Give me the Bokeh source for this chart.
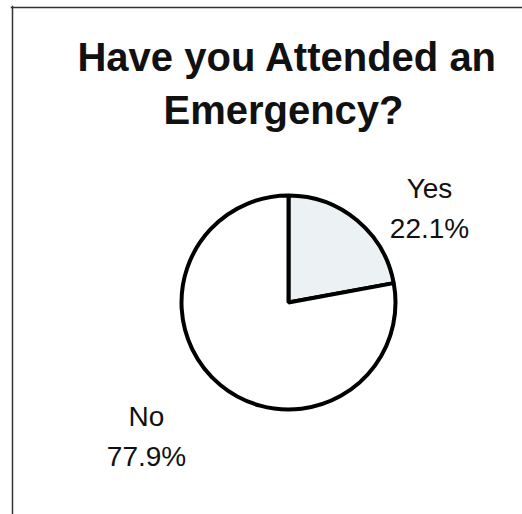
import numpy as np
from bokeh.plotting import figure
from bokeh.models import ColumnDataSource, Range1d, Label, Span
from bokeh.core.properties import value
from bokeh.embed import file_html
from bokeh.resources import INLINE

# ---- data ----
categories = ["Yes", "No"]
percentages = [22.1, 77.9]
slice_colors = ["#ecf1f3", "#ffffff"]
title_lines = ["Have you Attended an", "Emergency?"]

# ---- layout (pixel-like data space) ----
W, H = 522, 514
ML, MT = 10, 5
cx, cy, r = 276, 212, 107
label_x = [417, 134]
name_y = [326, 98]
pct_y = [286, 58]
title_x = [275, 271]
title_y = [458, 405]

fracs = np.array(percentages) / sum(percentages)
ends = np.cumsum(fracs)
starts = ends - fracs
start_angle = np.pi / 2 - starts * 2 * np.pi
end_angle = np.pi / 2 - ends * 2 * np.pi

src = ColumnDataSource(dict(
    cat=categories, pct=[f"{v:.1f}%" for v in percentages],
    start=start_angle, end=end_angle, color=slice_colors,
    lx=label_x, ny=name_y, py=pct_y,
))

p = figure(width=W, height=H, output_backend="svg", toolbar_location=None,
           x_axis_location=None, y_axis_location=None,
           x_range=Range1d(-2, W - ML - 2), y_range=Range1d(0, H - MT),
           min_border_left=ML, min_border_right=0, min_border_top=MT, min_border_bottom=0)
p.grid.visible = False
p.background_fill_color = "white"
p.border_fill_color = "white"
p.outline_line_color = None

# frame lines (left and top only; the others fall outside the picture)
p.add_layout(Span(location=0, dimension="height", line_color="#333333", line_width=1.5))
p.add_layout(Span(location=H - MT - 2, dimension="width", line_color="#333333", line_width=1.5))

p.wedge(x=cx, y=cy, radius=r, start_angle="start", end_angle="end", direction="clock",
        fill_color="color", line_color="black", line_width=4, source=src)

p.text(x="lx", y="ny", text="cat", source=src, text_align="center", text_baseline="alphabetic",
       text_font=value("Liberation Sans"), text_font_size="28px", text_color="#111111")
p.text(x="lx", y="py", text="pct", source=src, text_align="center", text_baseline="alphabetic",
       text_font=value("Liberation Sans"), text_font_size="28px", text_color="#111111")

for line, tx, ty in zip(title_lines, title_x, title_y):
    p.add_layout(Label(x=tx, y=ty, text=line, text_align="center", text_baseline="alphabetic",
                       text_font="Liberation Sans", text_font_style="bold",
                       text_font_size="40px", text_color="#111111"))

open("out.html", "w").write(file_html(p, INLINE))
